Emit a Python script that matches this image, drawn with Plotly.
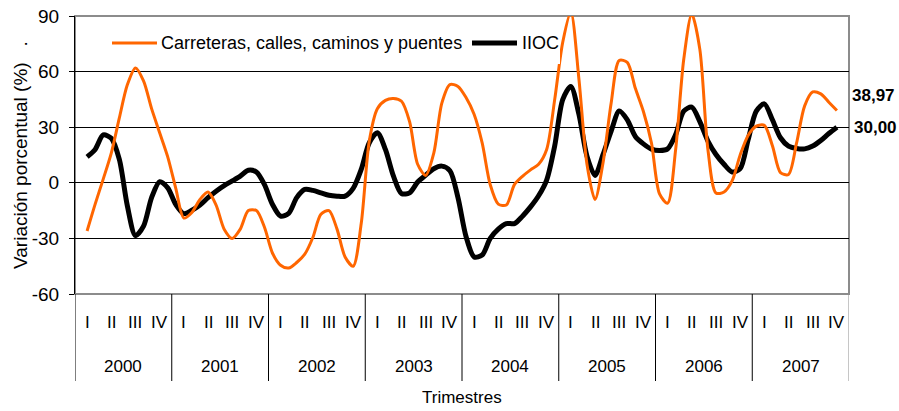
import plotly.graph_objects as go

# ---- data -------------------------------------------------------------
years = ["2000", "2001", "2002", "2003", "2004", "2005", "2006", "2007"]
quarters = ["I", "II", "III", "IV"]

# Variación porcentual, one reading every third of a quarter
# (from the middle of Q-I 2000 to the middle of Q-IV 2007)
carreteras = [
    -26, -11.5, 2, 16, 35, 53, 62, 55, 40, 27, 14, -3,
    -19, -16, -9, -5, -12, -25, -30, -25, -15, -15, -24, -38,
    -44.5, -46, -43, -38.5, -29.5, -17, -15, -25, -40, -45, -22, 22.5,
    40, 44.5, 45.5, 44, 33, 10, 4, 16, 43, 53, 52, 46,
    37, 21.5, -1, -11.5, -12, -1, 3.5, 7, 10, 18, 45, 76,
    92, 56, 10, -9, 11, 43, 66, 65, 51, 38.5, 21.5, -6,
    -11, 18, 66.5, 91, 72, 18, -5.5, -5, 1, 15, 25.7, 30.6,
    31, 20, 5.5, 4.5, 21.5, 41.5, 49, 48, 43.5, 38.97,
]
iioc = [
    14, 18, 25.8, 24, 12.6, -12.6, -28.5, -23.4, -8, 0.6, -2.7, -11.7,
    -16.6, -14.8, -12, -8, -4.5, -1.5, 1, 3.6, 6.8, 5.8, -1, -11.7,
    -18, -16.5, -8, -3.6, -4.1, -5.4, -6.7, -7.2, -7.2, -3, 7.2, 21.6,
    27, 18, 3.6, -5.8, -5.4, 0.4, 4.1, 7.6, 9, 6.5, -8, -29,
    -40, -39, -30, -25, -22, -22, -18, -13, -7, 1.5, 20, 45,
    52, 37, 14.4, 4, 15.3, 27.9, 38.7, 34, 25, 21, 18.2, 17.4,
    18.3, 26, 38.7, 40.8, 33, 22.5, 15.3, 10, 5.8, 7.6, 23.4, 38.7,
    42.6, 34, 24.3, 19.8, 18.5, 18.3, 19.8, 22.8, 26.6, 30.00,
]
series_names = ["Carreteras, calles, caminos y puentes", "IIOC"]
series_colors = ["#FF6600", "#000000"]
y_ticks = [-60, -30, 0, 30, 60, 90]

# ---- geometry -----------------------------------------------------------
W, H = 899, 411
L, R, T, B = 75, 50, 16, 117
plot_h = H - T - B
n_q = len(years) * len(quarters)
x = [0.5 + i / 3 for i in range(len(carreteras))]
FONT = "Liberation Sans, Arial, sans-serif"


def py(px):
    """pixel row (from top of figure) -> paper y"""
    return (H - B - px) / plot_h


fig = go.Figure()

# IIOC first so the orange series sits above it
fig.add_trace(go.Scatter(
    x=x, y=iioc, mode="lines", name=series_names[1], showlegend=False,
    line=dict(color=series_colors[1], width=5, shape="spline", smoothing=0.8),
))
fig.add_trace(go.Scatter(
    x=x, y=carreteras, mode="lines", name=series_names[0], showlegend=False,
    line=dict(color=series_colors[0], width=3, shape="spline", smoothing=0.8),
))

shapes = []
annotations = []

# plot frame (grey top/right/bottom)
shapes.append(dict(type="rect", xref="paper", yref="paper", x0=0, x1=1, y0=0, y1=1,
                   line=dict(color="#8c8c8c", width=2), layer="below"))

# category area: year separators reaching down under the axis
for k in range(len(years) + 1):
    shapes.append(dict(type="line", xref="x", yref="paper",
                       x0=4 * k, x1=4 * k, y0=0, y1=py(381),
                       line=dict(color="#8c8c8c" if k == len(years) else "#000000", width=1)))

# quarter and year labels
for k, yr in enumerate(years):
    for j, q in enumerate(quarters):
        annotations.append(dict(x=4 * k + j + 0.5, y=py(322), xref="x", yref="paper",
                                text=q, showarrow=False, xanchor="center", yanchor="middle",
                                font=dict(family=FONT, size=17, color="#000000")))
    annotations.append(dict(x=4 * k + 2, y=py(366), xref="x", yref="paper",
                            text=yr, showarrow=False, xanchor="center", yanchor="middle",
                            font=dict(family=FONT, size=17, color="#000000")))

# axis titles
annotations.append(dict(x=n_q / 2, y=py(398), xref="x", yref="paper", text="Trimestres",
                        showarrow=False, xanchor="center", yanchor="middle",
                        font=dict(family=FONT, size=17, color="#000000")))
annotations.append(dict(x=0, y=0.5, xref="paper", yref="paper", xshift=-55,
                        text="Variación porcentual (%)   .", textangle=-90,
                        showarrow=False, xanchor="center", yanchor="middle",
                        font=dict(family=FONT, size=19, color="#000000")))

# end-of-series values
annotations.append(dict(x=x[-1], y=carreteras[-1], xref="x", yref="y",
                        text=f"{carreteras[-1]:.2f}".replace(".", ","), showarrow=False,
                        xanchor="left", yanchor="middle", xshift=13, yshift=15,
                        font=dict(family=FONT, size=17, color="#000000", weight="bold")))
annotations.append(dict(x=x[-1], y=iioc[-1], xref="x", yref="y",
                        text=f"{iioc[-1]:.2f}".replace(".", ","), showarrow=False,
                        xanchor="left", yanchor="middle", xshift=15, yshift=0,
                        font=dict(family=FONT, size=17, color="#000000", weight="bold")))

# legend: white box over the plot, line samples and labels
pw = W - L - R


def pxx(px):
    return (px - L) / pw


shapes.append(dict(type="rect", xref="paper", yref="paper",
                   x0=pxx(100), x1=pxx(560), y0=py(64), y1=py(24),
                   fillcolor="#ffffff", line=dict(width=0), layer="above"))
shapes.append(dict(type="line", xref="paper", yref="paper",
                   x0=pxx(112), x1=pxx(157), y0=py(43), y1=py(43),
                   line=dict(color=series_colors[0], width=3), layer="above"))
shapes.append(dict(type="line", xref="paper", yref="paper",
                   x0=pxx(472), x1=pxx(517), y0=py(43), y1=py(43),
                   line=dict(color=series_colors[1], width=5), layer="above"))
annotations.append(dict(x=pxx(159), y=py(43), xref="paper", yref="paper",
                        text=series_names[0], showarrow=False, xanchor="left", yanchor="middle",
                        font=dict(family=FONT, size=18, color="#000000")))
annotations.append(dict(x=pxx(520), y=py(43), xref="paper", yref="paper",
                        text=series_names[1], showarrow=False, xanchor="left", yanchor="middle",
                        font=dict(family=FONT, size=18, color="#000000")))

fig.update_layout(
    width=W, height=H,
    margin=dict(l=L, r=R, t=T, b=B, pad=0, autoexpand=False),
    paper_bgcolor="#ffffff", plot_bgcolor="#ffffff",
    showlegend=False,
    shapes=shapes, annotations=annotations,
    xaxis=dict(range=[0, n_q], showgrid=False, zeroline=False, showticklabels=False,
               ticks="", showline=False, fixedrange=True, automargin=False),
    yaxis=dict(range=[-60, 90], tickvals=y_ticks, ticktext=[str(v) for v in y_ticks],
               showgrid=True, gridcolor="#000000", gridwidth=1, zeroline=False,
               showline=True, linecolor="#000000", linewidth=1,
               ticks="outside", ticklen=5, tickcolor="#000000", ticklabelstandoff=6,
               tickfont=dict(family=FONT, size=19, color="#000000"), fixedrange=True,
               automargin=False),
)

fig.write_html("out.html")
